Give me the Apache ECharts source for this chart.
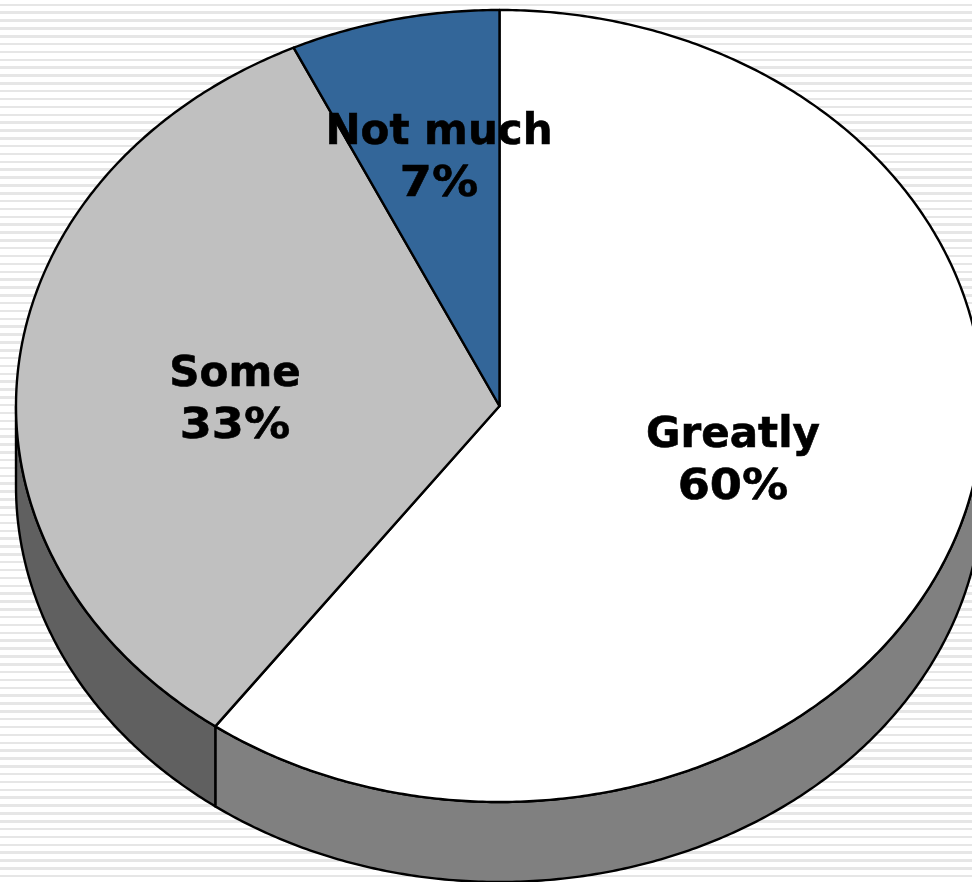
<!DOCTYPE html>
<html>
<head>
<meta charset="utf-8">
<style>
html,body{margin:0;padding:0;width:972px;height:882px;overflow:hidden;
background:repeating-linear-gradient(to bottom,#ffffff 0,#ffffff 3.6px,#e6e6e6 3.6px,#e6e6e6 6.1px,#ffffff 6.1px,#ffffff 7.85px);}
#c{width:972px;height:882px;}
</style>
<script src="https://cdn.jsdelivr.net/npm/echarts@6/dist/echarts.min.js"></script>
</head>
<body>
<div id="c"></div>
<script>
const categories = ['Greatly', 'Some', 'Not much'];
const shares = [60, 33, 7];
const percentLabels = ['60%', '33%', '7%'];

const topColors = ['#ffffff', '#c0c0c0', '#336699'];
const sideColors = ['#808080', '#606060', '#264d73'];
const labelCenters = [[733, 462], [235, 401], [439, 159]];
const labelLineGap = 52;
const percentStretch = 1.1;
const pie = { cx: 499.5, cy: 406, rx: 483.5, ry: 396, depth: 80 };

const total = shares.reduce((a, b) => a + b, 0);
function startShare(i) {
  let s = 0;
  for (let k = 0; k < i; k++) s += shares[k];
  return s;
}
function pt(deg, dy) {
  const r = deg * Math.PI / 180;
  return [pie.cx + pie.rx * Math.sin(r), pie.cy - pie.ry * Math.cos(r) + (dy || 0)];
}
function arc(a0, a1, dy) {
  const n = Math.max(2, Math.ceil(Math.abs(a1 - a0) * 2));
  const out = [];
  for (let i = 0; i <= n; i++) out.push(pt(a0 + (a1 - a0) * i / n, dy));
  return out;
}
const data = categories.map((name, i) => ({ name, value: [shares[i], i] }));

function angles(api) {
  const v = api.value(0), i = api.value(1);
  const a0 = startShare(i) / total * 360;
  return { i, a0, a1: a0 + v / total * 360 };
}
function labelLine(text, x, y, scaleX) {
  return { type: 'text', x, y, scaleX, z2: 10,
    style: {
      x: 0, y: 0, text,
      fill: '#000', stroke: '#000', lineWidth: 0.6,
      align: 'center', verticalAlign: 'middle',
      fontFamily: '"DejaVu Sans"', fontWeight: 'bold', fontSize: 42
    } };
}

const chart = echarts.init(document.getElementById('c'), null, { renderer: 'canvas' });
chart.setOption({
  animation: false,
  backgroundColor: 'transparent',
  series: [
    {
      type: 'custom', name: 'Side', coordinateSystem: 'none', z: 1, silent: true,
      data,
      renderItem(params, api) {
        const { i, a0, a1 } = angles(api);
        const s = Math.max(a0, 90), e = Math.min(a1, 270);
        if (e <= s) return { type: 'group', children: [] };
        const pts = arc(s, e, 0).concat(arc(e, s, pie.depth));
        return { type: 'polygon', shape: { points: pts },
          style: { fill: sideColors[i], stroke: '#000', lineWidth: 2.4, lineJoin: 'round' } };
      }
    },
    {
      type: 'custom', name: 'Share', coordinateSystem: 'none', z: 2, silent: true,
      data,
      renderItem(params, api) {
        const { i, a0, a1 } = angles(api);
        const pts = [[pie.cx, pie.cy]].concat(arc(a0, a1, 0));
        return { type: 'polygon', shape: { points: pts },
          style: { fill: topColors[i], stroke: '#000', lineWidth: 2.4, lineJoin: 'round' } };
      }
    },
    {
      type: 'custom', name: 'Labels', coordinateSystem: 'none', z: 3, silent: true,
      data,
      renderItem(params, api) {
        const i = api.value(1);
        const [x, y] = labelCenters[i];
        return { type: 'group', children: [
          labelLine(categories[i], x, y - labelLineGap / 2, 1),
          labelLine(percentLabels[i], x, y + labelLineGap / 2, percentStretch)
        ] };
      }
    }
  ]
});
</script>
</body>
</html>
